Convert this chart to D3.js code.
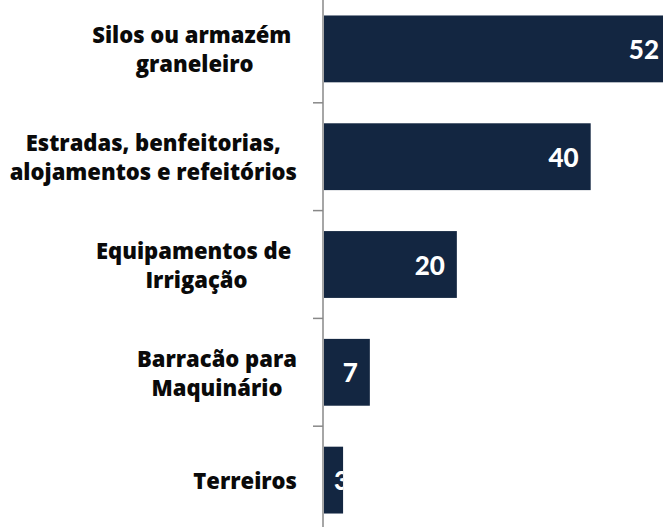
<!DOCTYPE html>
<html><head><meta charset="utf-8">
<script src="https://cdn.jsdelivr.net/npm/d3@7"></script>
<style>body{margin:0;background:#fff}svg{display:block}text{white-space:pre}</style>
</head><body>
<script>
const categories = [["Silos ou armazém ","graneleiro"],["Estradas, benfeitorias,","alojamentos e refeitórios"],["Equipamentos de ","Irrigação"],["Barracão para","Maquinário"],["Terreiros"]];
const values = [52, 40, 20, 7, 3];

const W = 663, H = 527;
const x0 = 323;
const svg = d3.select("body").append("svg").attr("width", W).attr("height", H);
const x = d3.scaleLinear().domain([0, 52]).range([x0, x0 + 348]);
const y = d3.scaleBand().domain(d3.range(values.length)).range([-5, 534]).paddingInner(0.38).paddingOuter(0.19);
const barColor = "#132641";

const defs = svg.append("defs");
values.forEach((v, i) => {
  defs.append("clipPath").attr("id", "c" + i).append("rect")
    .attr("x", x(0)).attr("y", y(i)).attr("width", x(v) - x(0)).attr("height", y.bandwidth());
});

svg.selectAll("rect.bar").data(values).join("rect").attr("class", "bar")
  .attr("x", x(0) + 1).attr("y", (d, i) => y(i)).attr("width", d => x(d) - x(0) - 1)
  .attr("height", y.bandwidth()).attr("fill", barColor);

// axis
const step = y.step();
const bounds = d3.range(values.length + 1).map(i => y(0) - step * y.paddingInner() / 2 + i * step);
svg.append("line").attr("x1", x0).attr("x2", x0).attr("y1", 0).attr("y2", H).attr("stroke", "#888").attr("stroke-width", 1.5);
svg.selectAll("line.tick").data(bounds).join("line").attr("class", "tick")
  .attr("x1", x0 - 10).attr("x2", x0).attr("y1", d => d).attr("y2", d => d)
  .attr("stroke", "#888").attr("stroke-width", 1.5);

// value labels
const vl = svg.selectAll("text.val").data(values).join("text").attr("class", "val")
  .attr("font-family", "Lato").attr("font-weight", "900").attr("font-size", 26)
  .attr("fill", "#fff").attr("dominant-baseline", "central")
  .attr("y", (d, i) => y(i) + y.bandwidth() / 2)
  .attr("clip-path", (d, i) => `url(#c${i})`)
  .text(d => d);
vl.each(function (d) {
  const w = this.getComputedTextLength();
  const end = x(d) - 12;
  d3.select(this).attr("x", Math.max(end - w, x0 + 11));
});

// category labels
const lh = 29;
categories.forEach((lines, i) => {
  const g = svg.append("g");
  const cy = y(i) + y.bandwidth() / 2;
  const t = g.selectAll("text").data(lines).join("text")
    .attr("font-family", "Open Sans").attr("font-weight", "800").attr("font-size", 22)
    .attr("fill", "#0a0a0a").attr("text-anchor", "middle").attr("dominant-baseline", "central")
    .attr("y", (d, j) => cy + (j - (lines.length - 1) / 2) * lh)
    .text(d => d);
  let mw = 0;
  t.each(function () { mw = Math.max(mw, this.getComputedTextLength()); });
  t.attr("x", 297 - mw / 2);
});
</script>
</body></html>
